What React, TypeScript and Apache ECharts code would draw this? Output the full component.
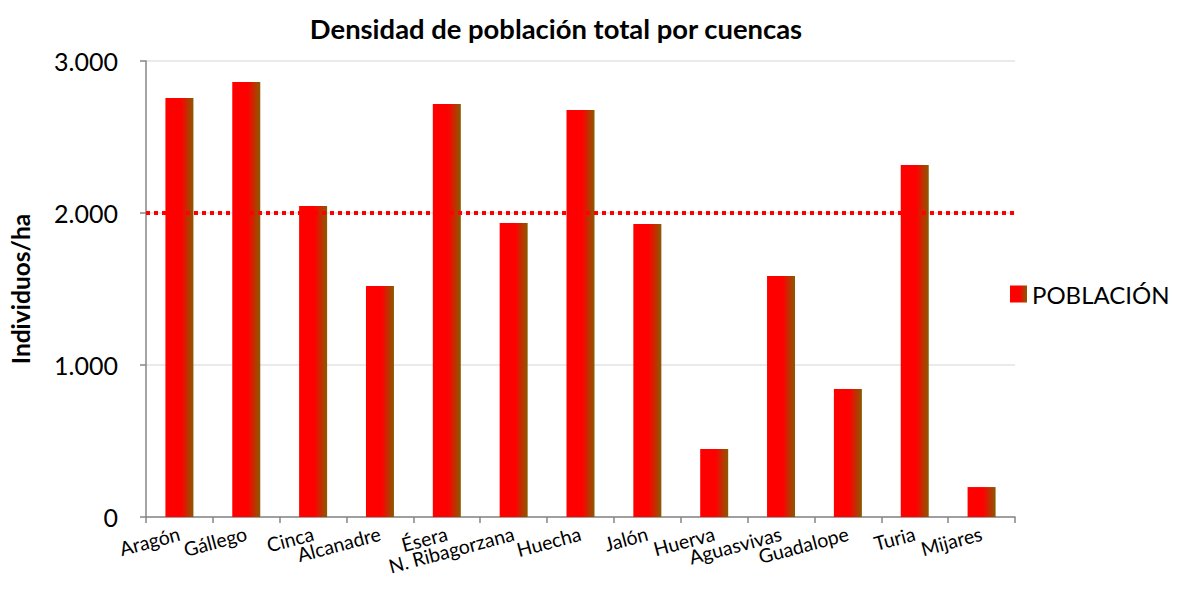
import React, { useEffect, useRef } from "react";
import * as echarts from "echarts";

const categories = [
  "Aragón", "Gállego", "Cinca", "Alcanadre", "Ésera", "N. Ribagorzana", "Huecha",
  "Jalón", "Huerva", "Aguasvivas", "Guadalope", "Turia", "Mijares",
];
const poblacion = [2757, 2862, 2046, 1520, 2717, 1934, 2678, 1928, 447, 1586, 842, 2316, 197];
const referenceLevel = 2000;
const yTicks = [0, 1000, 2000, 3000];

const fmt = (v: number) => String(v).replace(/\B(?=(\d{3})+(?!\d))/g, ".");

export default function App() {
  const ref = useRef<HTMLDivElement>(null);
  useEffect(() => {
    if (!ref.current) return;
    const chart = echarts.init(ref.current, null, { renderer: "svg" });
    const font = "Lato, 'Open Sans', sans-serif";
    chart.setOption({
      animation: false,
      textStyle: { fontFamily: font },
      title: {
        text: "Densidad de población total por cuencas",
        left: 551,
        textAlign: "center",
        top: 10,
        textStyle: { fontFamily: font, fontSize: 27.4, fontWeight: "bold", color: "#000" },
      },
      legend: {
        data: ["POBLACIÓN"],
        left: 1005,
        top: 277,
        orient: "vertical",
        icon: "rect",
        itemWidth: 17,
        itemHeight: 17,
        itemGap: 6,
        textStyle: { fontFamily: font, fontSize: 24, color: "#000" },
      },
      grid: { left: 140, right: 162, top: 61, bottom: 73 },
      xAxis: {
        type: "category",
        data: categories,
        boundaryGap: true,
        axisLine: { lineStyle: { color: "#868686", width: 1.5 } },
        axisTick: { show: true, length: 6, alignWithLabel: false, lineStyle: { color: "#868686", width: 1.5 } },
        axisLabel: {
          interval: 0,
          rotate: 15,
          margin: 16,
          fontSize: 19.5,
          color: "#000",
          fontFamily: font,
        },
      },
      yAxis: {
        type: "value",
        min: yTicks[0],
        max: yTicks[yTicks.length - 1],
        interval: 1000,
        name: "Individuos/ha",
        nameLocation: "middle",
        nameGap: 113,
        nameRotate: 90,
        nameTextStyle: { fontFamily: font, fontSize: 24.5, fontWeight: "bold", color: "#000" },
        axisLine: { show: true, lineStyle: { color: "#868686", width: 1.5 } },
        axisTick: { show: true, length: 6, lineStyle: { color: "#868686", width: 1.5 } },
        axisLabel: {
          fontSize: 25,
          color: "#000",
          margin: 28,
          fontFamily: font,
          formatter: (v: number) => fmt(v),
        },
        splitLine: { lineStyle: { color: "#e3e3e3", width: 1.5 } },
      },
      series: [
        {
          name: "POBLACIÓN",
          type: "bar",
          data: poblacion,
          barWidth: 28,
          itemStyle: {
            color: new echarts.graphic.LinearGradient(0, 0, 1, 0, [
              { offset: 0, color: "#ff0000" },
              { offset: 0.55, color: "#ff0000" },
              { offset: 1, color: "#8a5a00" },
            ]),
          },
          markLine: {
            silent: true,
            symbol: "none",
            label: { show: false },
            lineStyle: { color: "#ff0000", type: [4, 4], width: 4 },
            data: [{ yAxis: referenceLevel }],
          },
        },
      ],
    });
    return () => chart.dispose();
  }, []);
  return (
    <div
      ref={ref}
      style={{ position: "absolute", left: 0, top: 0, width: 1177, height: 590 }}
    />
  );
}
